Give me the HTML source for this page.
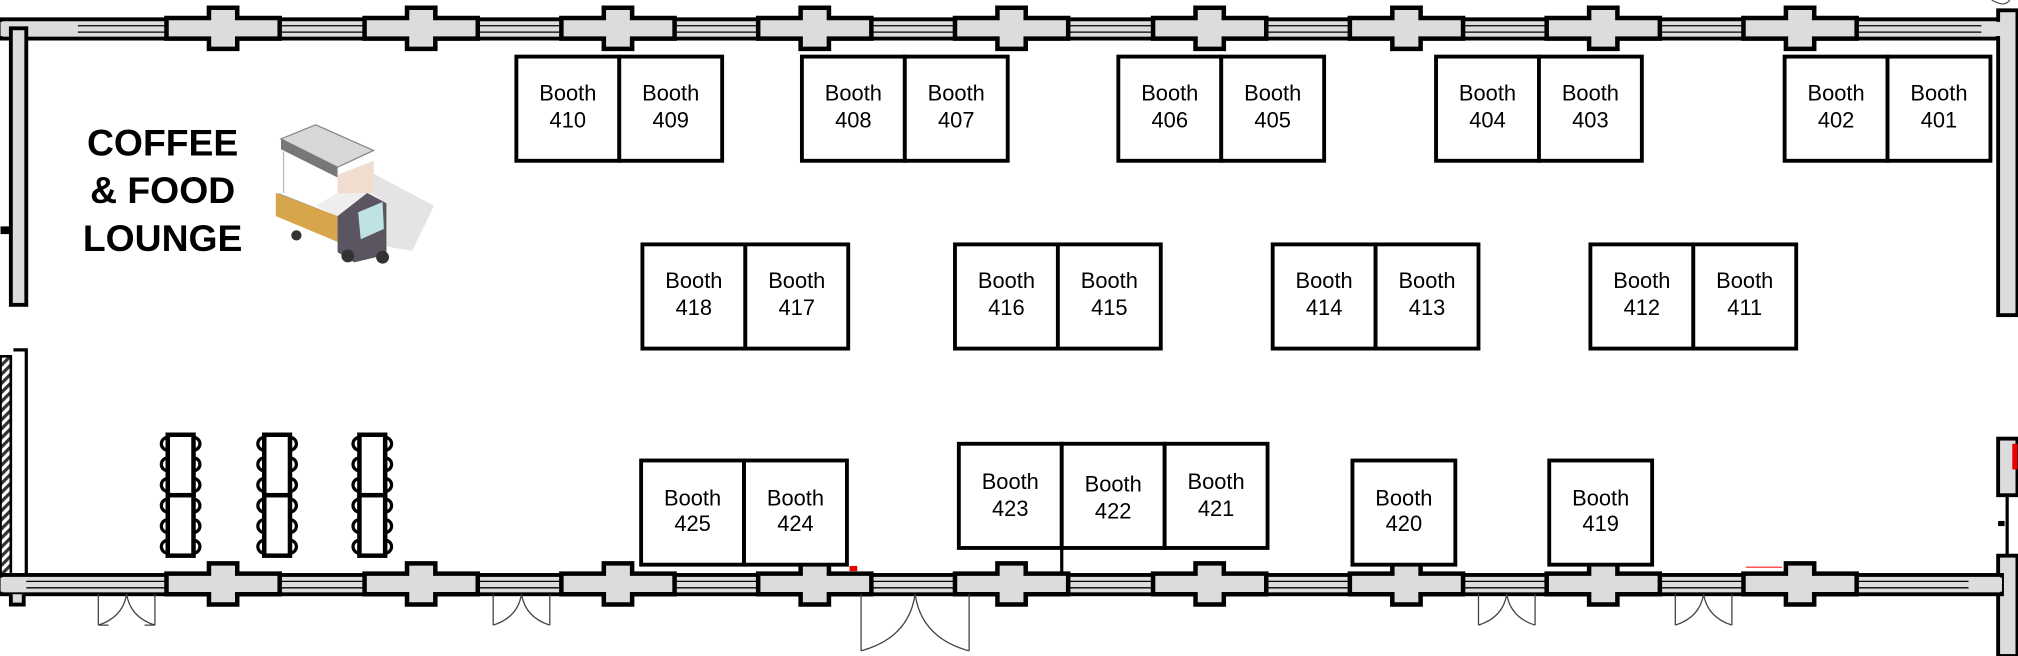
<!DOCTYPE html>
<html><head><meta charset="utf-8"><style>
html,body{margin:0;padding:0;background:#fff;}
svg{display:block;}
text{font-family:"Liberation Sans",sans-serif;}
</style></head><body>
<svg width="2018" height="656" viewBox="0 0 1568 510" xmlns="http://www.w3.org/2000/svg">
<defs>
<pattern id="hatch" width="5" height="5" patternUnits="userSpaceOnUse" patternTransform="rotate(45)">
<rect width="5" height="5" fill="#fff"/><rect width="2.5" height="5" fill="#333"/></pattern>
<g id="pillarT">
<path d="M-44,-8 H-11 V-16 H11 V-8 H44 V8 H11 V16 H-11 V8 H-44 Z" fill="#dcdcdc" stroke="#000" stroke-width="3.5"/>
</g>
<g id="booth"><rect x="0" y="0" width="80" height="81" fill="#fff" stroke="#000" stroke-width="3"/></g>
</defs>

<rect x="0" y="15" width="1556" height="15" fill="#dcdcdc" stroke="#000" stroke-width="3"/>
<g stroke="#000" stroke-width="1" fill="none">
<line x1="60" y1="20" x2="1540" y2="20"/><line x1="60" y1="25" x2="1540" y2="25"/>
</g>
<rect x="0" y="17" width="60" height="11" fill="#dcdcdc"/>
<g>
<use href="#pillarT" x="173" y="22"/><use href="#pillarT" x="327" y="22"/><use href="#pillarT" x="480" y="22"/>
<use href="#pillarT" x="633" y="22"/><use href="#pillarT" x="786" y="22"/><use href="#pillarT" x="940" y="22"/>
<use href="#pillarT" x="1093" y="22"/><use href="#pillarT" x="1246" y="22"/><use href="#pillarT" x="1399" y="22"/>
</g>
<rect x="8" y="22" width="12" height="215" fill="#dcdcdc" stroke="#000" stroke-width="3"/>
<rect x="0" y="176" width="8" height="6" fill="#000"/>
<rect x="1553" y="8" width="15" height="237" fill="#dcdcdc" stroke="#000" stroke-width="3"/>
<rect x="1540" y="17" width="18" height="11" fill="#dcdcdc"/>
<path d="M1548,0 Q1558,6 1562,0" fill="none" stroke="#555" stroke-width="1"/>
<rect x="1553" y="341" width="15" height="44" fill="#dcdcdc" stroke="#000" stroke-width="3"/>
<rect x="1564" y="345" width="4" height="20" fill="#e00"/>
<line x1="1560" y1="385" x2="1560" y2="432" stroke="#000" stroke-width="2.5"/>
<rect x="1553" y="405" width="5" height="4" fill="#000"/>
<rect x="1553" y="432" width="15" height="78" fill="#dcdcdc" stroke="#000" stroke-width="3"/>

<rect x="0" y="277" width="8" height="172" fill="url(#hatch)" stroke="#000" stroke-width="2"/>
<path d="M10,272 H20 V448" fill="none" stroke="#000" stroke-width="2.5"/>

<rect x="0" y="447" width="1556" height="15" fill="#dcdcdc" stroke="#000" stroke-width="3"/>
<g stroke="#000" stroke-width="1">
<line x1="0" y1="452" x2="1556" y2="452"/><line x1="0" y1="457" x2="1556" y2="457"/>
</g>
<rect x="0" y="449" width="20" height="11" fill="#dcdcdc"/>
<path d="M8,462 V470 H18 V462" fill="#dcdcdc" stroke="#000" stroke-width="3"/>
<g>
<use href="#pillarT" x="173" y="454"/><use href="#pillarT" x="327" y="454"/><use href="#pillarT" x="480" y="454"/>
<use href="#pillarT" x="633" y="454"/><use href="#pillarT" x="786" y="454"/><use href="#pillarT" x="940" y="454"/>
<use href="#pillarT" x="1093" y="454"/><use href="#pillarT" x="1246" y="454"/><use href="#pillarT" x="1399" y="454"/>
</g>
<rect x="1530" y="449" width="26" height="11" fill="#dcdcdc"/>
<g fill="none" stroke="#444" stroke-width="1">
<path d="M76,486 V462 M76,486 Q95,480 98,462 M120,486 V462 M120,486 Q101,480 98,462 M76,486 H84 M112,486 H120"/>
<path d="M383,486 V462 M383,486 Q402,480 405,462 M427,486 V462 M427,486 Q408,480 405,462"/>
<path d="M1149,486 V462 M1149,486 Q1168,480 1171,462 M1193,486 V462 M1193,486 Q1174,480 1171,462"/>
<path d="M1302,486 V462 M1302,486 Q1321,480 1324,462 M1346,486 V462 M1346,486 Q1327,480 1324,462"/>
<path d="M669,506 V462 M669,506 Q706,496 711,462 M753,506 V462 M753,506 Q716,496 711,462"/>
</g>
<rect x="660" y="440" width="6" height="4" fill="#e00"/>
<line x1="1357" y1="441" x2="1385" y2="441" stroke="#f55" stroke-width="1.2"/>

<g font-weight="bold" font-size="29" text-anchor="middle" fill="#000">
<text x="126" y="121">COFFEE</text>
<text x="126" y="158">&amp; FOOD</text>
<text x="126" y="195">LOUNGE</text>
</g>
<g>
<path d="M290,135 L337,160 L320,195 L290,190 Z" fill="#e4e4e4"/>
<path d="M218,108 L245,97 L290,117 L262,130 Z" fill="#d8d8d8" stroke="#888" stroke-width="1"/>
<path d="M218,108 L262,130 L262,138 L218,116 Z" fill="#777"/>
<line x1="220" y1="118" x2="220" y2="150" stroke="#bba" stroke-width="1"/>
<path d="M262,136 L290,125 L290,160 L262,172 Z" fill="#f1ddd0"/>
<path d="M216,150 L262,168 L262,180 L216,160 Z" fill="#999"/>
<path d="M214,150 L262,168 L262,188 L214,168 Z" fill="#d7a64a"/>
<path d="M245,160 L262,150 L290,150 L300,160 L300,195 L272,203 L262,195 L262,168 Z" fill="#eee"/>
<path d="M262,168 L285,150 L300,158 L300,198 L275,204 L262,196 Z" fill="#5a5560"/>
<path d="M278,165 L297,157 L298,178 L280,186 Z" fill="#bfe3e5"/>
<circle cx="230" cy="183" r="4" fill="#333"/><circle cx="270" cy="199" r="5" fill="#333"/><circle cx="297" cy="200" r="5" fill="#333"/>
</g>

<g fill="#fff" stroke="#000" stroke-width="2.5">
<g id="tbl">
<circle cx="130" cy="345" r="5"/><circle cx="130" cy="361" r="5"/><circle cx="130" cy="377" r="5"/>
<circle cx="130" cy="393" r="5"/><circle cx="130" cy="409" r="5"/><circle cx="130" cy="425" r="5"/>
<circle cx="150" cy="345" r="5"/><circle cx="150" cy="361" r="5"/><circle cx="150" cy="377" r="5"/>
<circle cx="150" cy="393" r="5"/><circle cx="150" cy="409" r="5"/><circle cx="150" cy="425" r="5"/>
<rect x="130" y="338" width="20" height="47" stroke-width="3.5"/>
<rect x="130" y="385" width="20" height="47" stroke-width="3.5"/>
</g>
<use href="#tbl" x="75"/>
<use href="#tbl" x="149"/>
</g>

<g>
<use href="#booth" x="401" y="44"/><use href="#booth" x="481" y="44"/>
<use href="#booth" x="623" y="44"/><use href="#booth" x="703" y="44"/>
<use href="#booth" x="869" y="44"/><use href="#booth" x="949" y="44"/>
<use href="#booth" x="1116" y="44"/><use href="#booth" x="1196" y="44"/>
<use href="#booth" x="1387" y="44"/><use href="#booth" x="1467" y="44"/>
<use href="#booth" x="499" y="190"/><use href="#booth" x="579" y="190"/>
<use href="#booth" x="742" y="190"/><use href="#booth" x="822" y="190"/>
<use href="#booth" x="989" y="190"/><use href="#booth" x="1069" y="190"/>
<use href="#booth" x="1236" y="190"/><use href="#booth" x="1316" y="190"/>
<use href="#booth" x="498" y="358"/><use href="#booth" x="578" y="358"/>
<use href="#booth" x="745" y="345"/><use href="#booth" x="825" y="345"/><use href="#booth" x="905" y="345"/>
<use href="#booth" x="1051" y="358"/><use href="#booth" x="1204" y="358"/>
</g>
<line x1="825" y1="426" x2="825" y2="447" stroke="#000" stroke-width="2.5"/>
<g font-size="17" text-anchor="middle" fill="#000">
<text x="441" y="78">Booth</text><text x="441" y="99">410</text>
<text x="521" y="78">Booth</text><text x="521" y="99">409</text>
<text x="663" y="78">Booth</text><text x="663" y="99">408</text>
<text x="743" y="78">Booth</text><text x="743" y="99">407</text>
<text x="909" y="78">Booth</text><text x="909" y="99">406</text>
<text x="989" y="78">Booth</text><text x="989" y="99">405</text>
<text x="1156" y="78">Booth</text><text x="1156" y="99">404</text>
<text x="1236" y="78">Booth</text><text x="1236" y="99">403</text>
<text x="1427" y="78">Booth</text><text x="1427" y="99">402</text>
<text x="1507" y="78">Booth</text><text x="1507" y="99">401</text>
<text x="539" y="224">Booth</text><text x="539" y="245">418</text>
<text x="619" y="224">Booth</text><text x="619" y="245">417</text>
<text x="782" y="224">Booth</text><text x="782" y="245">416</text>
<text x="862" y="224">Booth</text><text x="862" y="245">415</text>
<text x="1029" y="224">Booth</text><text x="1029" y="245">414</text>
<text x="1109" y="224">Booth</text><text x="1109" y="245">413</text>
<text x="1276" y="224">Booth</text><text x="1276" y="245">412</text>
<text x="1356" y="224">Booth</text><text x="1356" y="245">411</text>
<text x="538" y="393">Booth</text><text x="538" y="413">425</text>
<text x="618" y="393">Booth</text><text x="618" y="413">424</text>
<text x="785" y="380">Booth</text><text x="785" y="401">423</text>
<text x="865" y="382">Booth</text><text x="865" y="403">422</text>
<text x="945" y="380">Booth</text><text x="945" y="401">421</text>
<text x="1091" y="393">Booth</text><text x="1091" y="413">420</text>
<text x="1244" y="393">Booth</text><text x="1244" y="413">419</text>
</g>
</svg>
</body></html>
